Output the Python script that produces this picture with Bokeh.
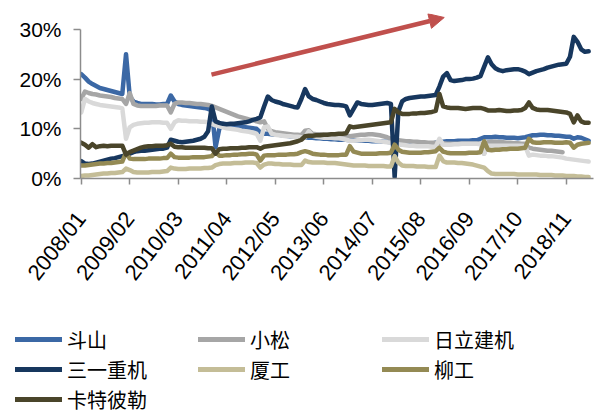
import math
from bokeh.plotting import figure
from bokeh.layouts import column
from bokeh.models import (Range1d, FixedTicker, Legend, LegendItem, Arrow,
                          NormalHead, PrintfTickFormatter)
from bokeh.embed import file_html
from bokeh.resources import INLINE

nan = float("nan")

# ---------------- data (monthly, 2008/01 .. 2019/05) ----------------
tick_labels = ["2008/01", "2009/02", "2010/03", "2011/04", "2012/05", "2013/06",
               "2014/07", "2015/08", "2016/09", "2017/10", "2018/11"]
tick_index = [0, 13, 26, 39, 52, 65, 78, 91, 104, 117, 130]

names = ["斗山", "小松", "日立建机", "三一重机", "厦工", "柳工", "卡特彼勒"]

doosan = [
    21.0, 20.3, 19.5, 19.0, 18.6, 18.2, 18.0, 17.8, 17.6, 17.4,
    17.2, 17.0, 25.0, 16.5, 15.5, 15.2, 15.0, 15.0, 15.0, 15.0,
    14.9, 14.9, 15.0, 15.0, 16.7, 15.5, 15.0, 14.8, 14.7, 14.6,
    14.5, 14.4, 14.3, 14.2, 14.0, 13.7, 6.3, 10.0, 11.0, 10.8,
    10.7, 10.6, 10.5, 10.4, 10.3, 10.2, 10.1, 10.0, 9.3, 9.0,
    9.0, 8.9, 8.8, 8.8, 8.7, 8.6, 8.5, 8.5, 8.4, 8.3,
    8.3, 8.2, 8.2, 8.1, 8.1, 8.0, 8.0, 7.9, 7.9, 7.8,
    7.8, 7.8, 7.7, 7.7, 7.7, 7.6, 7.6, 7.6, 7.5, 7.5,
    7.5, 7.4, 7.4, 7.3, 7.2, 7.0, 6.9, 6.8, 6.8, 6.7,
    6.7, 6.6, 6.7, 6.8, 7.0, 7.2, 7.3, 7.4, 7.5, 7.5,
    7.5, 7.6, 7.6, 7.6, 7.6, 7.7, 7.7, 8.0, 8.3, 8.3,
    8.3, 8.4, 8.3, 8.3, 8.2, 8.2, 8.2, 8.1, 8.2, 8.3,
    8.5, 8.7, 8.7, 8.8, 8.8, 8.7, 8.7, 8.6, 8.6, 8.5,
    8.4, 8.4, 8.0, 8.3, 8.2, 7.9, 7.6]

komatsu = [
    16.0, 17.5, 17.2, 17.0, 16.9, 16.7, 16.6, 16.5, 16.4, 16.2,
    16.1, 16.0, 15.0, 17.2, 15.0, 14.7, 14.6, 14.6, 14.6, 14.6,
    14.6, 14.7, 14.7, 14.7, 13.3, 15.0, 15.3, 15.3, 15.2, 15.2,
    15.1, 15.0, 15.0, 14.9, 14.8, 14.6, 14.3, 14.0, 13.7, 13.4,
    13.1, 12.8, 12.5, 12.3, 12.1, 11.9, 11.8, 11.5, 11.3, 11.5,
    10.0, 9.5, 9.3, 9.2, 9.1, 9.0, 8.9, 8.8, 8.8, 8.7,
    9.6, 9.7, 9.0, 8.9, 8.9, 8.8, 8.8, 8.7, 8.7, 8.7,
    8.6, 8.6, 8.5, 8.6, 8.7, 8.8, 8.8, 8.9, 8.9, 8.8,
    8.7, 8.5, 8.3, 8.0, 7.8, 7.7, 7.6, 7.5, 7.5, 7.4,
    7.4, 7.3, 7.3, 7.2, 7.2, 7.2, 7.1, 7.1, 7.0, 7.0,
    7.0, 7.0, 7.0, 7.0, 7.0, 7.0, 7.0, 7.0, 5.0, 7.3,
    7.4, 7.4, 7.3, 7.3, 7.2, 7.2, 7.1, 7.1, 7.0, 7.0,
    6.2, 6.0, 5.9, 5.8, 5.7, 5.6, 5.6, 5.5, 5.4, 5.3,
    nan, nan, nan, nan, nan, nan, nan]

hitachi = [
    13.3, 16.0, 15.5, 15.2, 15.0, 14.8, 14.7, 14.6, 14.5, 14.4,
    14.3, 14.1, 8.0, 10.3, 10.8, 11.0, 11.1, 11.2, 11.2, 11.3,
    11.3, 11.3, 11.2, 11.2, 10.0, 11.3, 11.7, 11.6, 11.6, 11.5,
    11.5, 11.5, 11.4, 11.4, 11.3, 11.0, 10.7, 10.5, 10.3, 10.1,
    10.0, 9.9, 9.8, 9.6, 9.5, 9.4, 9.2, 9.0, 7.6, 10.3,
    10.5, 9.0, 8.8, 8.7, 8.6, 8.5, 8.5, 8.4, 8.4, 8.3,
    8.3, 9.5, 8.6, 8.4, 8.3, 8.2, 8.2, 8.2, 8.1, 8.1,
    8.0, 7.8, 7.6, 7.6, 7.7, 7.7, 7.8, 7.8, 7.7, 7.6,
    7.5, 7.4, 7.3, 7.2, 7.0, 6.9, 6.8, 6.7, 6.6, 6.6,
    6.5, 6.5, 6.5, 6.5, 6.4, 6.4, 8.0, 6.8, 6.8, 6.8,
    6.9, 6.9, 7.0, 7.0, 7.0, 7.0, 7.0, 6.9, 5.0, 6.6,
    6.6, 6.6, 6.6, 6.6, 6.6, 6.6, 6.6, 6.6, 6.6, 6.5,
    4.6, 4.8, 4.7, 4.6, 4.6, 4.5, 4.5, 4.4, 4.3, 4.2,
    4.0, 3.9, 3.8, 3.7, 3.6, 3.5, 3.4]

sany = [
    3.5, 3.0, 2.9, 3.0, 3.2, 3.4, 3.6, 3.8, 4.0, 4.1,
    4.3, 4.5, 4.7, 5.0, 5.3, 5.5, 5.6, 5.6, 5.7, 5.8,
    5.9, 6.0, 6.0, 6.2, 7.8, 7.6, 7.4, 7.3, 7.4, 7.5,
    7.6, 7.8, 8.0, 8.4, 9.5, 14.5, 11.5, 11.2, 11.0, 10.9,
    11.0, 11.0, 11.1, 11.2, 11.3, 11.5, 11.8, 12.0, 12.3, 14.5,
    16.5, 15.8, 15.5, 15.3, 15.0, 14.8, 14.6, 14.4, 14.3, 16.0,
    18.0, 16.5, 16.0, 15.8, 15.5, 15.2, 15.0, 14.9, 14.8, 14.8,
    14.7, 14.5, 12.7, 14.0, 15.3, 15.0, 14.9, 14.8, 14.8, 14.9,
    15.0, 15.1, 15.2, 15.0, 0.3, 13.5, 15.5, 16.0, 16.2, 16.3,
    16.4, 16.5, 16.5, 16.6, 16.7, 16.8, 18.5, 20.5, 21.2, 19.8,
    19.6, 19.7, 19.8, 20.0, 20.0, 20.1, 20.3, 20.6, 22.5, 24.4,
    23.0, 22.2, 21.8, 21.6, 21.8, 21.9, 22.0, 22.0, 21.8, 21.5,
    21.0, 21.3, 21.6, 21.8, 22.0, 22.3, 22.5, 22.7, 22.9, 23.0,
    23.1, 24.5, 28.5, 27.5, 26.0, 25.5, 25.6]

xiamen = [
    0.5, 0.6, 0.6, 0.7, 0.8, 0.9, 1.0, 1.0, 1.1, 1.1,
    1.2, 1.3, 2.0, 1.7, 1.3, 1.2, 1.2, 1.2, 1.2, 1.3,
    1.3, 1.3, 1.4, 1.5, 2.2, 2.0, 1.9, 1.9, 1.9, 2.0,
    2.0, 2.0, 2.0, 2.1, 2.1, 2.2, 2.7, 2.9, 3.0, 3.0,
    3.0, 3.1, 3.1, 3.1, 3.2, 3.2, 3.2, 3.1, 2.2, 2.8,
    3.0, 3.0, 2.9, 2.9, 2.8, 2.8, 2.8, 2.7, 2.7, 2.7,
    3.6, 3.3, 3.2, 3.2, 3.2, 3.2, 3.1, 3.1, 3.1, 3.0,
    2.9, 2.8, 2.7, 2.6, 2.6, 2.6, 2.6, 2.5, 2.5, 2.5,
    2.5, 2.5, 2.4, 2.4, 4.5, 3.2, 2.6, 2.5, 2.5, 2.5,
    2.4, 2.4, 2.4, 2.3, 2.3, 2.3, 4.6, 3.5, 3.2, 3.2,
    3.2, 3.1, 3.1, 3.0, 2.9, 2.8, 2.6, 2.4, 2.2, 1.5,
    1.0, 0.9, 0.9, 0.9, 0.9, 0.9, 0.9, 0.8, 0.8, 0.8,
    0.8, 0.8, 0.8, 0.7, 0.7, 0.7, 0.7, 0.6, 0.6, 0.6,
    0.5, 0.5, 0.5, 0.4, 0.4, 0.3, 0.3]

liugong = [
    2.6, 2.6, 2.7, 2.8, 2.9, 3.0, 3.0, 3.1, 3.1, 3.2,
    3.3, 3.4, 5.2, 4.0, 3.9, 3.9, 3.9, 3.9, 4.0, 4.0,
    4.0, 4.0, 4.1, 4.1, 5.0, 4.3, 4.2, 4.2, 4.2, 4.2,
    4.3, 4.3, 4.3, 4.3, 4.4, 4.5, 5.3, 4.6, 4.6, 4.7,
    4.7, 4.8, 4.8, 4.9, 4.9, 5.0, 5.0, 4.8, 3.6, 4.6,
    4.7, 4.7, 4.7, 4.8, 4.8, 4.8, 4.9, 4.9, 5.0, 5.3,
    5.5, 5.3, 5.0, 4.9, 4.8, 4.8, 4.7, 4.7, 4.7, 4.7,
    4.8, 4.8, 6.5, 5.4, 5.2, 5.0, 5.0, 5.0, 5.0, 5.0,
    5.1, 5.1, 5.1, 5.2, 6.8, 5.8, 5.4, 5.3, 5.2, 5.2,
    5.2, 5.2, 5.3, 5.3, 5.4, 5.5, 6.2, 5.4, 5.2, 5.1,
    5.1, 5.1, 5.1, 5.1, 5.2, 5.2, 5.2, 5.3, 7.5, 5.8,
    5.7, 5.8, 5.8, 5.9, 5.9, 6.0, 6.0, 6.0, 6.1, 6.2,
    8.0, 7.3, 7.2, 7.2, 7.3, 7.3, 7.3, 7.2, 7.2, 7.2,
    7.3, 7.2, 6.2, 6.8, 7.0, 7.1, 7.2]

caterpillar = [
    7.2, 6.8, 6.2, 6.9, 6.3, 6.5, 6.6, 6.5, 6.6, 6.6,
    6.6, 6.6, 4.8, 5.3, 5.6, 5.9, 6.2, 6.4, 6.5, 6.5,
    6.6, 6.6, 6.6, 6.7, 7.0, 6.4, 6.3, 6.3, 6.2, 6.2,
    6.2, 6.2, 6.2, 6.2, 6.1, 6.1, 5.0, 5.9, 6.0, 6.0,
    6.1, 6.1, 6.1, 6.2, 6.2, 6.3, 6.3, 6.3, 6.0, 6.4,
    6.5, 6.6, 6.7, 6.8, 6.9, 7.0, 7.1, 7.3, 7.5, 7.8,
    8.5, 8.6, 8.6, 8.7, 8.7, 8.8, 8.8, 8.9, 8.9, 9.0,
    9.0, 9.1, 10.5, 10.3, 10.4, 10.5, 10.6, 10.7, 10.8, 10.9,
    11.0, 11.1, 11.2, 11.3, 14.0, 13.3, 13.0, 13.0, 13.0, 13.1,
    13.1, 13.2, 13.2, 13.3, 13.4, 13.6, 17.0, 14.5, 14.3, 14.2,
    14.2, 14.2, 14.1, 14.0, 14.1, 14.2, 14.2, 14.2, 14.0, 13.7,
    13.7, 13.7, 13.8, 13.7, 13.6, 13.6, 13.7, 13.7, 13.8, 14.2,
    15.3, 14.2, 13.9, 13.8, 13.8, 13.8, 13.7, 13.6, 13.5, 13.4,
    13.3, 13.0, 11.3, 12.7, 11.5, 11.2, 11.2]

series = [doosan, komatsu, hitachi, sany, xiamen, liugong, caterpillar]
colors = ["#3b68a5", "#a6a6a6", "#d9d9d9", "#17375e", "#c4bd97", "#948a54", "#4a452a"]

# trend arrow (data units)
arrow_start = (34.9, 20.9)
arrow_end = (97.3, 32.4)

# ---------------- chart ----------------
p = figure(width=614, height=300, output_backend="svg", toolbar_location=None,
           x_range=Range1d(-0.2, 137.3), y_range=Range1d(0, 33.2),
           min_border_left=80, min_border_right=21, min_border_top=13,
           min_border_bottom=122)
p.frame_align = False
p.xgrid.visible = False
p.ygrid.visible = False
p.outline_line_color = None

axis_col = "#8c8c8c"
p.yaxis.ticker = FixedTicker(ticks=[0, 10, 20, 30])
p.yaxis.formatter = PrintfTickFormatter(format="%d%%")
p.yaxis.bounds = (0, 30)
p.xaxis.ticker = FixedTicker(ticks=tick_index)
p.xaxis.major_label_overrides = {i: lab for i, lab in zip(tick_index, tick_labels)}
p.xaxis.major_label_orientation = math.radians(52)
for ax in (p.xaxis, p.yaxis):
    ax.axis_line_color = axis_col
    ax.axis_line_width = 1.5
    ax.major_tick_line_color = axis_col
    ax.major_tick_line_width = 1.5
    ax.major_tick_in = 0
    ax.minor_tick_line_color = None
    ax.major_label_text_font = "Liberation Sans"
    ax.major_label_text_color = "black"
p.xaxis.major_label_text_font_size = "22px"
p.yaxis.major_label_text_font_size = "21px"
p.yaxis.major_tick_out = 7
p.yaxis.major_label_standoff = 12
p.xaxis.major_tick_out = 6
p.xaxis.major_label_standoff = 30

for vals, col in zip(series, colors):
    xs = list(range(len(vals)))
    p.line(xs, vals, line_color=col, line_width=4.5,
           line_join="round", line_cap="round")

p.add_layout(Arrow(end=NormalHead(size=15, fill_color="#c0504d", line_color="#c0504d"),
                   x_start=arrow_start[0], y_start=arrow_start[1],
                   x_end=arrow_end[0], y_end=arrow_end[1],
                   line_color="#c0504d", line_width=4.5))

# ---------------- legend strip ----------------
# ranges chosen so that the swatch renderers' data lie outside the view;
# only their legend samples are shown
lgf = figure(width=614, height=114, output_backend="svg", toolbar_location=None,
             x_range=Range1d(-20, -19), y_range=Range1d(-20, -19),
             min_border_left=0, min_border_right=0, min_border_top=0,
             min_border_bottom=0)
lgf.frame_align = False
lgf.axis.visible = False
lgf.grid.visible = False
lgf.outline_line_color = None

swatches = []
for vals, col in zip(series, colors):
    xs = list(range(len(vals)))
    swatches.append(lgf.line(xs, vals, line_color=col, line_width=5, line_cap="round"))

columns = [([0, 3, 6], (15, 0.5)), ([1, 4], (198, 30.5)), ([2, 5], (382, 30.5))]
for idxs, loc in columns:
    items = [LegendItem(label=names[i], renderers=[swatches[i]]) for i in idxs]
    lg = Legend(items=items, location=loc, orientation="vertical",
                glyph_width=47, glyph_height=18, label_height=18,
                spacing=1, padding=0, margin=0, label_standoff=5,
                label_text_font="Noto Sans CJK SC", label_text_font_size="20px",
                label_text_color="black",
                border_line_alpha=0, background_fill_alpha=0)
    lgf.add_layout(lg, "center")

layout = column(p, lgf, spacing=0)
open("out.html", "w").write(file_html(layout, INLINE))
